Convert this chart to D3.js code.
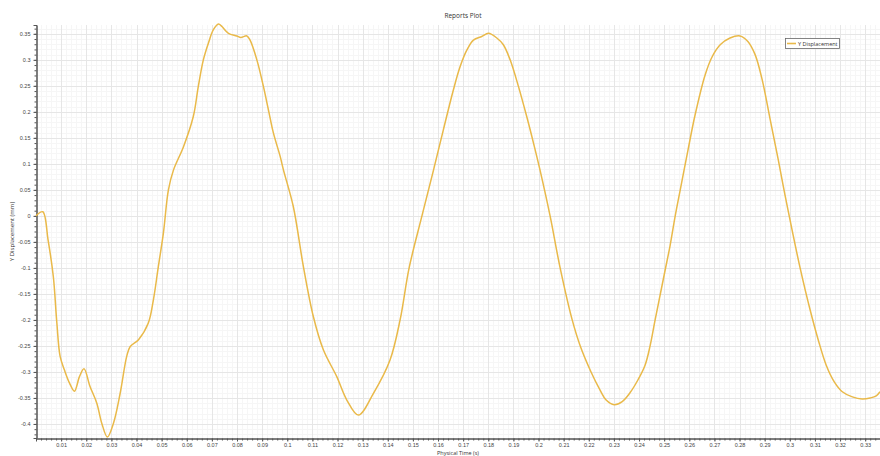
<!DOCTYPE html>
<html>
<head>
<meta charset="utf-8">
<script src="https://cdn.jsdelivr.net/npm/d3@7"></script>
<style>
  html, body { margin: 0; padding: 0; background: #fff; }
  svg { display: block; font-family: "Open Sans", "DejaVu Sans", sans-serif; }
</style>
</head>
<body>
<svg id="chart" width="880" height="456"></svg>
<script>
// Physical time (s) of each sample
const time = [
  0, 0.0027, 0.0048, 0.0069, 0.0083, 0.0096, 0.0113, 0.0133, 0.0153, 0.0173,
  0.0191, 0.0215, 0.0242, 0.0262, 0.0284, 0.0308, 0.0335, 0.0361, 0.0375, 0.0408,
  0.0447, 0.0467, 0.0487, 0.0507, 0.0527, 0.0547, 0.0587, 0.0626, 0.0646, 0.0666,
  0.0686, 0.0706, 0.0726, 0.0740, 0.0766, 0.0799, 0.0815, 0.0839, 0.0852, 0.0879,
  0.0905, 0.0925, 0.0945, 0.0972, 0.0985, 0.1024, 0.1064, 0.1104, 0.1144, 0.1197,
  0.1237, 0.1283, 0.1343, 0.1409, 0.1449, 0.1485, 0.1536, 0.1582, 0.1621, 0.1661,
  0.1688, 0.1715, 0.1741, 0.1774, 0.1801, 0.1834, 0.1860, 0.1887, 0.1920, 0.1953,
  0.1980, 0.2006, 0.2046, 0.2086, 0.2134, 0.2166, 0.2209, 0.2245, 0.2269, 0.2301,
  0.2333, 0.2364, 0.2396, 0.2424, 0.2444, 0.2464, 0.2484, 0.2504, 0.2524, 0.2544,
  0.2564, 0.2595, 0.2623, 0.2663, 0.2691, 0.2723, 0.2762, 0.2802, 0.2834, 0.2862,
  0.2890, 0.2922, 0.2954, 0.2981, 0.3009, 0.3041, 0.3081, 0.3113, 0.3145, 0.3177,
  0.3209, 0.3249, 0.3288, 0.3320, 0.3344, 0.3359
];

// Y displacement (mm) at each sample
const yDisplacement = [
  0, 0.008, -0.046, -0.117, -0.206, -0.27, -0.296, -0.321, -0.337, -0.309,
  -0.294, -0.328, -0.36, -0.399, -0.425, -0.399, -0.341, -0.27, -0.251, -0.238,
  -0.206, -0.162, -0.097, -0.033, 0.05, 0.088, 0.133, 0.191, 0.249, 0.30,
  0.332, 0.358, 0.369, 0.364, 0.351, 0.346, 0.343, 0.346, 0.338, 0.30,
  0.249, 0.204, 0.159, 0.114, 0.088, 0.018, -0.097, -0.194, -0.258, -0.309,
  -0.354, -0.383, -0.341, -0.277, -0.2, -0.1, 0, 0.088, 0.165, 0.242,
  0.287, 0.319, 0.338, 0.345, 0.351, 0.342, 0.329, 0.30, 0.249, 0.191,
  0.14, 0.088, 0, -0.1, -0.2, -0.25, -0.3, -0.335, -0.354, -0.363,
  -0.357, -0.34, -0.315, -0.287, -0.25, -0.2, -0.152, -0.104, -0.056, 0,
  0.05, 0.127, 0.194, 0.271, 0.306, 0.329, 0.342, 0.346, 0.335, 0.31,
  0.262, 0.185, 0.108, 0.04, -0.027, -0.1, -0.181, -0.238, -0.287, -0.319,
  -0.338, -0.348, -0.352, -0.35, -0.346, -0.338
];

// Axis tick labels
const xTickValues = d3.range(1, 34).map(i => +(i * 0.01).toFixed(2));
const yTickValues = [-0.4, -0.35, -0.3, -0.25, -0.2, -0.15, -0.1, -0.05, 0, 0.05, 0.1, 0.15, 0.2, 0.25, 0.3, 0.35];

const seriesName = "Y Displacement";
const title = "Reports Plot";
const xTitle = "Physical Time (s)";
const yTitle = "Y Displacement (mm)";

const data = time.map((t, i) => ({ t, v: yDisplacement[i] }));

const svg = d3.select("#chart");
const plotLeft = 36, plotRight = 880, plotTop = 25, plotBottom = 438;

const x = d3.scaleLinear().domain([0, 0.3359]).range([plotLeft, plotRight]);
const y = d3.scaleLinear().domain([-0.427, 0.367]).range([plotBottom, plotTop]);

// Grid: faint minor lines, then major lines
const grid = svg.append("g");
const xMinor = d3.range(0, 0.336, 0.002);
const yMinor = d3.range(-0.42, 0.3651, 0.01);
grid.selectAll(".xm").data(xMinor).join("line")
  .attr("x1", d => Math.round(x(d)) + 0.5).attr("x2", d => Math.round(x(d)) + 0.5)
  .attr("y1", plotTop).attr("y2", plotBottom)
  .attr("stroke", "#f6f6f6").attr("stroke-width", 1);
grid.selectAll(".ym").data(yMinor).join("line")
  .attr("y1", d => Math.round(y(d)) + 0.5).attr("y2", d => Math.round(y(d)) + 0.5)
  .attr("x1", plotLeft).attr("x2", plotRight)
  .attr("stroke", "#f6f6f6").attr("stroke-width", 1);
grid.selectAll(".xM").data(xTickValues).join("line")
  .attr("x1", d => Math.round(x(d)) + 0.5).attr("x2", d => Math.round(x(d)) + 0.5)
  .attr("y1", plotTop).attr("y2", plotBottom)
  .attr("stroke", "#e6e6e6").attr("stroke-width", 1);
grid.selectAll(".yM").data(yTickValues).join("line")
  .attr("y1", d => Math.round(y(d)) + 0.5).attr("y2", d => Math.round(y(d)) + 0.5)
  .attr("x1", plotLeft).attr("x2", plotRight)
  .attr("stroke", "#e6e6e6").attr("stroke-width", 1);

// Axes
const fmt = d => String(+d.toFixed(2));
const xAxis = svg.append("g").attr("transform", `translate(0,${plotBottom + 0.5})`)
  .call(d3.axisBottom(x).tickValues(xTickValues).tickFormat(fmt).tickSize(3).tickPadding(2));
const xMinorAxis = svg.append("g").attr("transform", `translate(0,${plotBottom + 0.5})`)
  .call(d3.axisBottom(x).tickValues(xMinor).tickFormat("").tickSize(2).tickSizeOuter(0));
const yAxis = svg.append("g").attr("transform", `translate(${plotLeft + 0.5},0)`)
  .call(d3.axisLeft(y).tickValues(yTickValues).tickFormat(fmt).tickSize(3).tickPadding(3));
const yMinorAxis = svg.append("g").attr("transform", `translate(${plotLeft + 0.5},0)`)
  .call(d3.axisLeft(y).tickValues(yMinor).tickFormat("").tickSize(2).tickSizeOuter(0));

[xAxis, xMinorAxis, yAxis, yMinorAxis].forEach(g => {
  g.selectAll("path").attr("stroke", "#555");
  g.selectAll("line").attr("stroke", "#555");
  g.selectAll("text").attr("fill", "#444").style("font-size", "5.5px");
});

// Series line
const line = d3.line()
  .x(d => x(d.t))
  .y(d => y(d.v))
  .curve(d3.curveCatmullRom.alpha(0.5));

svg.append("path")
  .datum(data)
  .attr("fill", "none")
  .attr("stroke", "#e9b949")
  .attr("stroke-width", 1.5)
  .attr("stroke-linejoin", "round")
  .attr("d", line);

// Titles
svg.append("text").attr("x", 463).attr("y", 18).attr("text-anchor", "middle")
  .attr("fill", "#333").style("font-size", "6.5px").text(title);
svg.append("text").attr("x", 458).attr("y", 455).attr("text-anchor", "middle")
  .attr("fill", "#333").style("font-size", "5.5px").text(xTitle);
svg.append("text").attr("transform", `translate(14,${(plotTop + plotBottom) / 2}) rotate(-90)`)
  .attr("text-anchor", "middle").attr("fill", "#333").style("font-size", "6px").text(yTitle);

// Legend
const lg = svg.append("g").attr("transform", "translate(785,38)");
lg.append("rect").attr("x", 0.5).attr("y", 0.5).attr("width", 54).attr("height", 10)
  .attr("fill", "#fff").attr("stroke", "#666").attr("stroke-width", 0.8);
lg.append("line").attr("x1", 2).attr("x2", 11).attr("y1", 5.5).attr("y2", 5.5)
  .attr("stroke", "#e9b949").attr("stroke-width", 1.6);
lg.append("text").attr("x", 13).attr("y", 7.5).attr("fill", "#333")
  .style("font-size", "5.5px").text(seriesName);
</script>
</body>
</html>
